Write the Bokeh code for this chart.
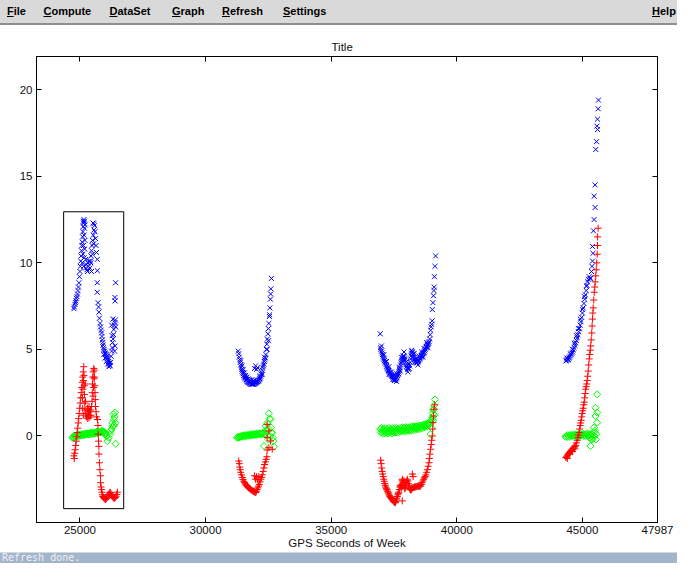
import math
from bokeh.plotting import figure
from bokeh.models import Range1d, FixedTicker, LinearAxis, ColumnDataSource, Div
from bokeh.layouts import column
from bokeh.embed import file_html
from bokeh.resources import INLINE

# ---------------- data ----------------
x_ticks = [25000, 30000, 35000, 40000, 45000, 47987]
y_ticks = [0, 5, 10, 15, 20]
x_lim = (23270, 47988)
y_lim = (-5.0, 21.92)
box_x = (24350, 26741)
box_y = (-4.2, 12.95)

title_text = "Title"
x_label = "GPS Seconds of Week"
menu_items = ["File", "Compute", "DataSet", "Graph", "Refresh", "Settings", "Help"]
status_text = "Refresh done."

blue_pass1 = [
    (24760, 7.35), (24780, 7.45), (24800, 7.6), (24820, 7.7), (24840, 7.8), (24860, 7.95), (24880, 8.05),
    (24900, 8.2), (24920, 8.4), (24940, 8.6), (24960, 8.85), (24980, 9.2), (25000, 9.5), (25015, 9.8),
    (25030, 10.1), (25045, 10.4), (25060, 10.7), (25075, 11.0), (25090, 11.2), (25105, 11.5), (25120, 11.8),
    (25130, 12.1), (25145, 12.3), (25160, 12.5),
    (25100, 10.0), (25120, 10.5), (25140, 11.0), (25160, 11.6), (25180, 12.0), (25150, 9.8), (25170, 10.3),
    (25190, 10.8), (25200, 11.3), (25130, 12.4), (25180, 12.4), (25200, 12.2),
    (25220, 9.7), (25250, 9.9), (25280, 9.6), (25310, 10.0), (25340, 9.8), (25370, 10.1), (25400, 9.7),
    (25430, 10.0), (25460, 9.5), (25230, 10.2), (25300, 9.5),
    (25520, 12.3), (25550, 12.25), (25580, 12.15), (25560, 11.9), (25530, 11.6), (25500, 11.3), (25480, 11.0),
    (25460, 10.7), (25440, 10.4), (25420, 10.1), (25600, 11.8), (25620, 11.4), (25640, 11.0), (25660, 10.6),
    (25540, 11.1), (25500, 10.5),
    (25690, 10.2), (25690, 9.55), (25690, 8.85), (25690, 8.3),
    (25720, 7.7), (25740, 7.45), (25755, 7.15), (25775, 6.8), (25800, 6.5), (25820, 6.3), (25840, 6.1),
    (25860, 5.95), (25875, 5.75), (25890, 5.55), (25905, 5.4), (25920, 5.25), (25940, 5.1), (25960, 5.0),
    (25980, 4.9), (26000, 4.8), (26020, 4.75), (26040, 4.7), (26060, 4.6), (26080, 4.55), (26100, 4.5),
    (26120, 4.4), (26140, 4.3), (26160, 4.2), (26180, 4.1), (26200, 4.05), (26220, 4.25), (25950, 4.7),
    (26000, 4.5), (26050, 4.3), (26100, 4.15), (26150, 4.0),
    (26240, 4.6), (26260, 4.9), (26280, 5.1), (26300, 5.4), (26320, 5.6), (26340, 5.85), (26350, 6.15),
    (26370, 6.4), (26390, 6.55), (26410, 6.7), (26310, 6.75), (26260, 6.4), (26280, 5.8), (26420, 6.3),
    (26400, 5.2), (26380, 4.9),
    (26420, 8.85), (26390, 8.0), (26395, 7.8),
]
red_pass1 = [
    (24760, -1.15), (24775, -1.3), (24790, -1.0), (24810, -0.8), (24830, -0.55), (24850, -0.3), (24870, -0.05),
    (24890, 0.2), (24910, 0.45), (24930, 0.75), (24950, 1.0), (24970, 1.3), (24990, 1.6), (25010, 1.9),
    (25030, 2.2), (25050, 2.5), (25070, 2.8), (25090, 3.1), (25110, 3.4), (25130, 3.7), (25150, 4.0),
    (25100, 2.2), (25110, 1.6), (25120, 2.7), (25130, 1.2), (25140, 3.2), (25160, 3.5), (25170, 2.9),
    (25180, 2.4), (25190, 1.9), (25200, 1.5), (25210, 3.0), (25220, 2.0), (25230, 1.3),
    (25260, 1.1), (25290, 1.3), (25310, 1.0), (25340, 1.2), (25360, 1.05), (25380, 1.4), (25400, 1.15),
    (25420, 1.5), (25440, 1.2), (25460, 1.7), (25300, 1.6), (25330, 1.5), (25360, 1.7),
    (25480, 2.0), (25490, 2.5), (25500, 3.0), (25510, 3.4), (25530, 3.7), (25550, 3.9), (25570, 3.8),
    (25580, 3.4), (25590, 2.9), (25600, 2.5), (25610, 2.1), (25620, 1.7), (25640, 1.4), (25660, 1.1),
    (25520, 2.3), (25540, 2.8), (25560, 3.3),
    (25700, 0.95), (25715, 0.6), (25725, 0.1), (25740, -0.3), (25750, -0.6), (25755, -1.05), (25775, -1.55),
    (25795, -1.95), (25815, -2.3), (25820, -2.7),
    (25840, -2.95), (25860, -3.1), (25875, -3.25), (25890, -3.4), (25910, -3.5), (25935, -3.55), (25960, -3.6),
    (25990, -3.65), (26020, -3.68), (26050, -3.62), (26080, -3.55), (26110, -3.45), (26140, -3.38),
    (26170, -3.3), (26200, -3.25), (26230, -3.3), (26260, -3.42), (26290, -3.5), (26320, -3.55),
    (26350, -3.6), (26380, -3.6), (26410, -3.55), (26440, -3.48), (26470, -3.38), (26490, -3.25),
]
green_pass1 = [
    (24700, -0.1), (24725, -0.05), (24750, -0.1), (24775, 0.0), (24800, -0.05), (24825, 0.0), (24850, -0.05),
    (24875, 0.05), (24900, 0.0), (24925, 0.0), (24950, 0.05), (24975, 0.0), (25000, 0.05), (25025, 0.1),
    (25050, 0.05), (25075, 0.05), (25100, 0.1), (25125, 0.05), (25150, 0.1), (25175, 0.1), (25200, 0.05),
    (25225, 0.1), (25250, 0.15), (25275, 0.1), (25300, 0.1), (25325, 0.15), (25350, 0.1), (25375, 0.15),
    (25400, 0.1), (25425, 0.15), (25450, 0.2), (25475, 0.15), (25500, 0.1), (25525, 0.15), (25550, 0.2),
    (25575, 0.15), (25600, 0.2), (25625, 0.15), (25650, 0.2), (25675, 0.25), (25700, 0.2), (25725, 0.15),
    (25750, 0.2), (25775, 0.25), (25800, 0.2), (25825, 0.25), (25850, 0.2), (25875, 0.3), (25900, 0.25),
    (25925, 0.2), (25950, 0.25), (25975, 0.2), (26000, 0.15), (26025, 0.1), (26050, 0.0),
    (26090, -0.3), (26150, -0.1), (26200, 0.1), (26230, 0.3), (26260, 0.4), (26290, 0.75), (26300, 0.55),
    (26330, 1.25), (26350, 0.95), (26355, 0.6), (26380, 1.1), (26390, 1.35), (26410, 0.75), (26420, -0.45),
]

blue_pass2 = [
    (31300, 4.9), (31320, 4.75), (31340, 4.55), (31360, 4.4), (31380, 4.25), (31400, 4.1), (31420, 3.95),
    (31440, 3.85), (31460, 3.75), (31480, 3.65), (31500, 3.6), (31520, 3.5), (31540, 3.45), (31560, 3.4),
    (31580, 3.35), (31600, 3.3), (31620, 3.25), (31640, 3.2), (31660, 3.15), (31680, 3.12), (31700, 3.1),
    (31720, 3.08), (31740, 3.05), (31760, 3.05), (31780, 3.05), (31800, 3.0), (31820, 3.0), (31840, 3.0),
    (31860, 3.0), (31880, 3.0), (31900, 3.0), (31920, 3.0), (31940, 3.02), (31960, 3.05), (31980, 3.05),
    (32000, 3.08), (32020, 3.1), (32040, 3.12), (32060, 3.15), (32080, 3.15), (32100, 3.2), (32120, 3.2),
    (32140, 3.25), (32160, 3.3), (32180, 3.35), (32200, 3.45), (32220, 3.55), (32240, 3.65), (32260, 3.8),
    (32280, 3.95), (32300, 4.05), (32320, 4.15), (32340, 4.3), (32360, 4.4), (32380, 4.5), (32400, 4.7),
    (32420, 5.0), (32440, 5.3), (32460, 5.6), (32480, 5.9), (32500, 6.2), (32520, 6.5), (32540, 6.9),
    (32560, 7.4), (32580, 7.9), (32600, 8.5), (32620, 9.1),
    (31400, 4.35), (31450, 4.05), (31500, 3.85), (31550, 3.65), (31600, 3.5), (31650, 3.4), (31700, 3.3),
    (31750, 3.25), (31800, 3.2), (31850, 3.25), (31900, 3.2), (31950, 3.9), (31990, 4.05), (32030, 3.85),
    (32070, 3.95), (32150, 3.45), (32250, 3.55), (32350, 4.55), (32450, 5.0), (32500, 5.5), (32550, 7.0),
    (32590, 8.2),
]
red_pass2 = [
    (31320, -1.45), (31340, -1.6), (31360, -1.8), (31380, -1.95), (31400, -2.1), (31430, -2.25), (31460, -2.4),
    (31490, -2.52), (31520, -2.62), (31550, -2.7), (31580, -2.77), (31610, -2.83), (31640, -2.88),
    (31670, -2.93), (31700, -2.98), (31730, -3.02), (31760, -3.05), (31790, -3.08), (31820, -3.12),
    (31850, -3.15), (31880, -3.18), (31910, -3.2), (31940, -3.22), (31970, -3.25), (31995, -3.27),
    (32020, -3.2), (32050, -3.1), (32080, -3.0), (32110, -2.9), (32140, -2.8), (32170, -2.65), (32200, -2.5),
    (32230, -2.4), (32260, -2.25), (32290, -2.05), (32320, -1.85), (32350, -1.65), (32380, -1.5),
    (32410, -1.35), (32440, -1.2),
    (31950, -2.3), (31990, -2.5), (32030, -2.35), (32080, -2.55), (32120, -2.35),
    (32450, 0.67), (32520, 0.29), (32450, -0.1), (32586, -0.29), (32520, -0.68), (32653, -0.77), (32450, -0.81),
]
green_pass2 = [
    (31260, -0.1), (31290, -0.05), (31320, -0.1), (31350, -0.05), (31380, -0.05), (31410, 0.0), (31440, -0.05),
    (31470, 0.0), (31500, 0.0), (31530, 0.05), (31560, 0.0), (31590, 0.0), (31620, 0.05), (31650, 0.0),
    (31680, 0.05), (31710, 0.05), (31740, 0.0), (31770, 0.05), (31800, 0.1), (31830, 0.05), (31860, 0.05),
    (31890, 0.1), (31920, 0.05), (31950, 0.1), (31980, 0.1), (32010, 0.05), (32040, 0.1), (32070, 0.15),
    (32100, 0.1), (32130, 0.1), (32160, 0.15), (32190, 0.1), (32220, 0.15), (32250, 0.1), (32280, 0.15),
    (32310, 0.2), (32340, 0.1), (32370, 0.15),
    (32390, 0.58), (32420, 0.3), (32450, 0.75), (32480, 0.45), (32520, 1.3), (32550, 1.0), (32586, 0.96),
    (32600, 0.5), (32620, 0.2), (32653, 0.19), (32680, -0.1), (32700, -0.3), (32323, -0.58), (32721, -0.62),
    (32560, 0.0), (32500, -0.2),
]

blue_pass3 = [
    (36950, 5.9), (37000, 5.2), (36960, 5.1), (36980, 5.0), (37000, 4.9), (37020, 4.8), (37040, 4.7),
    (37060, 4.6), (37080, 4.5), (37100, 4.42), (37120, 4.35), (37140, 4.28), (37160, 4.22), (37180, 4.12),
    (37200, 4.02), (37220, 3.95), (37240, 3.88), (37260, 3.82), (37280, 3.78), (37300, 3.74), (37320, 3.68),
    (37340, 3.63), (37360, 3.58), (37380, 3.54), (37400, 3.5), (37420, 3.47), (37440, 3.44), (37460, 3.38),
    (37480, 3.33), (37500, 3.25), (37520, 3.2), (37540, 3.22), (37560, 3.27), (37580, 3.3), (37600, 3.35),
    (37620, 3.42), (37640, 3.48), (37660, 3.55), (37680, 3.6), (37700, 3.7), (37720, 3.82), (37740, 3.95),
    (37760, 4.1), (37780, 4.22), (37800, 4.32), (37820, 4.42), (37840, 4.5), (37860, 4.58), (37880, 4.62),
    (37900, 4.6), (37920, 4.5), (37940, 4.38), (37960, 4.25), (37980, 4.12), (38000, 4.02), (38020, 3.95),
    (38040, 3.9), (38060, 3.86), (38080, 3.85), (38100, 3.9), (38120, 4.05), (38140, 4.25), (38160, 4.45),
    (38180, 4.62), (38200, 4.78), (38220, 4.88), (38240, 4.85), (38260, 4.75), (38280, 4.62), (38300, 4.52),
    (38320, 4.42), (38340, 4.35), (38360, 4.3), (38380, 4.25), (38400, 4.22), (38420, 4.23), (38440, 4.28),
    (38460, 4.32), (38480, 4.36), (38500, 4.4), (38520, 4.45), (38540, 4.5), (38560, 4.55), (38580, 4.6),
    (38600, 4.64), (38620, 4.68), (38640, 4.72), (38660, 4.76), (38680, 4.8), (38700, 4.85), (38720, 4.92),
    (38740, 5.0), (38760, 5.07), (38780, 5.13), (38800, 5.18), (38820, 5.22), (38840, 5.27), (38860, 5.32),
    (38880, 5.37), (38900, 5.45), (38920, 5.6), (38940, 5.85), (38960, 6.1), (38980, 6.3), (39000, 6.45),
    (39020, 6.65), (39025, 7.3), (39050, 7.7), (39070, 8.1), (39090, 8.4), (39100, 8.6), (39110, 9.2),
    (39130, 9.8), (39155, 10.4),
    (37100, 4.7), (37200, 4.3), (37300, 4.0), (37400, 3.7), (37500, 3.5), (37600, 3.6), (37700, 3.95),
    (37800, 4.55), (37900, 4.85), (38000, 4.3), (38100, 4.15), (38200, 4.95), (38300, 4.75), (38400, 4.45),
    (38500, 4.6), (38600, 4.85), (38700, 5.05), (38800, 5.4), (37300, 3.55), (37450, 3.25), (37600, 3.15),
    (37750, 3.75), (37900, 4.4), (38050, 3.7), (38250, 4.55), (38450, 4.1), (38650, 4.55), (38850, 5.1),
]
red_pass3 = [
    (36970, -1.4), (36990, -1.6), (37010, -1.85), (37030, -2.05), (37050, -2.2), (37070, -2.35), (37090, -2.5),
    (37110, -2.62), (37130, -2.75), (37150, -2.85), (37170, -2.95), (37190, -3.02), (37210, -3.08),
    (37230, -3.12), (37250, -3.2), (37270, -3.28), (37290, -3.35), (37310, -3.42), (37330, -3.48),
    (37350, -3.52), (37370, -3.57), (37390, -3.6), (37410, -3.63), (37430, -3.66), (37450, -3.7),
    (37470, -3.74), (37490, -3.78), (37510, -3.81), (37530, -3.84), (37550, -3.86), (37570, -3.8),
    (37590, -3.7), (37610, -3.6), (37630, -3.5), (37650, -3.4), (37670, -3.32), (37690, -3.25),
    (37710, -3.1), (37730, -2.95), (37750, -2.85), (37770, -2.9), (37790, -3.0), (37810, -2.8),
    (37830, -2.6), (37850, -2.55), (37870, -2.7), (37890, -2.85), (37910, -2.95), (37930, -3.05),
    (37950, -3.0), (37970, -2.85), (37990, -2.7), (38010, -2.6), (38030, -2.5), (38050, -2.6),
    (38070, -2.75), (38090, -2.85), (38110, -2.95), (38130, -3.05), (38150, -3.1), (38170, -3.12),
    (38190, -3.1), (38210, -3.05), (38230, -3.0), (38260, -2.98), (38290, -2.96), (38320, -2.95),
    (38350, -2.94), (38380, -2.93), (38410, -2.92), (38440, -2.91), (38470, -2.9), (38500, -2.9),
    (38530, -2.9), (38560, -2.89), (38590, -2.8), (38620, -2.7), (38650, -2.6), (38680, -2.5),
    (38710, -2.42), (38740, -2.35), (38770, -2.25), (38800, -2.1), (38830, -1.95), (38860, -1.75),
    (38890, -1.55), (38910, -1.3), (38930, -1.05), (38956, -0.77), (38980, -0.5), (39000, -0.25),
    (39024, 0.0), (39040, 0.4), (39052, 0.77), (39070, 1.15), (39092, 1.54), (39120, 1.8),
    (37830, -2.5), (37900, -2.6), (38230, -2.2), (38260, -2.35), (37830, -3.75),
]
green_pass3 = [
    (36950, 0.4), (36975, 0.2), (37000, 0.45), (37025, 0.3), (37050, 0.15), (37075, 0.4), (37100, 0.3),
    (37125, 0.15), (37150, 0.45), (37175, 0.3), (37200, 0.15), (37225, 0.4), (37250, 0.25), (37275, 0.15),
    (37300, 0.45), (37325, 0.3), (37350, 0.2), (37375, 0.4), (37400, 0.3), (37425, 0.15), (37450, 0.45),
    (37475, 0.3), (37500, 0.2), (37525, 0.45), (37550, 0.3), (37575, 0.2), (37600, 0.45), (37625, 0.3),
    (37650, 0.4), (37675, 0.2), (37700, 0.35), (37725, 0.45), (37750, 0.25), (37775, 0.4), (37800, 0.3),
    (37825, 0.5), (37850, 0.3), (37875, 0.45), (37900, 0.35), (37925, 0.25), (37950, 0.5), (37975, 0.35),
    (38000, 0.3), (38025, 0.5), (38050, 0.35), (38075, 0.45), (38100, 0.3), (38125, 0.5), (38150, 0.4),
    (38175, 0.3), (38200, 0.55), (38225, 0.4), (38250, 0.5), (38275, 0.35), (38300, 0.55), (38325, 0.45),
    (38350, 0.35), (38375, 0.55), (38400, 0.45), (38425, 0.55), (38450, 0.4), (38475, 0.6), (38500, 0.5),
    (38525, 0.4), (38550, 0.6), (38575, 0.5), (38600, 0.6), (38625, 0.45), (38650, 0.65), (38675, 0.55),
    (38700, 0.5), (38725, 0.65), (38750, 0.55), (38775, 0.7), (38800, 0.6), (38825, 0.55), (38850, 0.7),
    (38875, 0.75), (38900, 0.65), (38925, 0.8), (38950, 0.75), (38954, 0.1), (38975, 0.9), (39000, 0.95),
    (39020, 1.1), (39040, 1.3), (39060, 1.5), (39080, 1.55), (39100, 1.75), (39110, 1.2), (39129, 2.1),
    (39070, 0.9), (39000, 0.45),
]

blue_pass4 = [
    (44340, 4.33), (44370, 4.37), (44400, 4.4), (44430, 4.45), (44460, 4.5), (44490, 4.55), (44520, 4.62),
    (44550, 4.7), (44580, 4.78), (44610, 4.85), (44640, 4.97), (44670, 5.1), (44700, 5.23), (44730, 5.38),
    (44760, 5.52), (44790, 5.67), (44820, 5.85), (44850, 6.02), (44880, 6.2), (44910, 6.4), (44940, 6.6),
    (44970, 6.85), (45000, 7.1), (45030, 7.4), (45060, 7.65), (45090, 7.9), (45120, 8.15), (45150, 8.4),
    (45180, 8.7), (45210, 8.9), (45240, 9.05), (45270, 9.2), (45300, 9.1), (45330, 9.1), (45360, 9.5),
    (45380, 9.8), (45400, 10.1), (45420, 10.55), (45400, 10.95), (45440, 11.85), (45465, 12.5),
    (45505, 13.2), (45465, 13.85), (45505, 14.5), (45530, 16.55), (45560, 17.0), (45600, 17.7),
    (45575, 17.9), (45600, 18.3), (45625, 18.9), (45640, 19.4),
    (44380, 4.5), (44450, 4.4), (44520, 4.75), (44600, 5.0), (44680, 5.35), (44760, 5.8), (44840, 6.2),
    (44920, 6.75), (45000, 7.3), (45080, 8.05), (45160, 8.65),
]
red_pass4 = [
    (44340, -1.25), (44370, -1.2), (44400, -1.12), (44430, -1.05), (44460, -1.0), (44490, -0.95), (44520, -0.9),
    (44550, -0.85), (44580, -0.8), (44610, -0.75), (44640, -0.7), (44670, -0.65), (44700, -0.6), (44730, -0.55),
    (44760, -0.4), (44790, -0.25), (44820, -0.1), (44850, 0.05), (44870, 0.2), (44890, 0.4), (44910, 0.6),
    (44930, 0.75), (44950, 0.9), (44970, 1.1), (44990, 1.3), (45010, 1.45), (45030, 1.6), (45050, 1.8),
    (45070, 1.95), (45090, 2.2), (45110, 2.45), (45130, 2.7), (45150, 2.85), (45170, 3.0), (45190, 3.2),
    (45210, 3.45), (45230, 3.75), (45250, 4.1), (45270, 4.45), (45290, 4.7), (45310, 4.95), (45330, 5.2),
    (45350, 5.55), (45370, 5.95), (45385, 6.35), (45400, 6.75), (45415, 7.1), (45430, 7.4), (45450, 7.85),
    (45470, 8.3), (45490, 8.6), (45510, 8.9), (45530, 9.25), (45550, 9.6), (45570, 10.0), (45590, 10.5),
    (45600, 11.0), (45605, 11.5), (45625, 12.0),
    (44400, -1.3), (44500, -1.05), (44600, -0.9), (44700, -0.75),
]
green_pass4 = [
    (44330, -0.05), (44360, 0.0), (44390, -0.05), (44420, 0.05), (44450, 0.0), (44480, -0.05), (44510, 0.05),
    (44540, 0.0), (44570, 0.05), (44600, 0.0), (44630, 0.05), (44660, 0.0), (44690, 0.1), (44720, 0.05),
    (44750, 0.0), (44780, 0.1), (44810, -0.1), (44840, 0.05), (44870, 0.1), (44900, 0.0), (44930, 0.1),
    (44960, 0.05), (44990, 0.1), (45020, 0.0), (45050, 0.1), (45080, 0.05), (45110, 0.0), (45140, 0.1),
    (45170, 0.05), (45200, 0.15), (45230, 0.0), (45260, 0.1), (45290, -0.1), (45320, 0.05), (45350, -0.2),
    (45380, 0.1), (45410, -0.1), (45440, 0.2), (45470, 0.0),
    (45589, 2.4), (45521, 1.63), (45589, 1.35), (45521, 1.15), (45589, 0.77), (45457, 0.48), (45389, -0.2),
    (45322, -0.58), (45500, 0.3), (45560, 0.1), (45540, -0.2),
]


def unzip(*passes):
    xs = [t for ps in passes for t, _ in ps]
    ys = [v for ps in passes for _, v in ps]
    return ColumnDataSource(data=dict(x=xs, y=ys))


blue_src = unzip(blue_pass1, blue_pass2, blue_pass3, blue_pass4)
red_src = unzip(red_pass1, red_pass2, red_pass3, red_pass4)
green_src = unzip(green_pass1, green_pass2, green_pass3, green_pass4)

# ---------------- layout / style ----------------
W = 677
UI_FONT = "Liberation Sans"

# menu bar (HTML)
menu_left = [7, 43.5, 109.5, 172, 222, 283, 652]
spans = "".join(
    f'<span style="position:absolute;left:{lx}px;top:5px;"><u>{name[0]}</u>{name[1:]}</span>'
    for name, lx in zip(menu_items, menu_left)
)
menu_html = (
    f'<div style="position:relative;width:{W}px;height:25px;box-sizing:border-box;'
    f'background:#d9d9d9;border-bottom:2px solid #8e8e8e;font-family:\'{UI_FONT}\',Arial,sans-serif;'
    f'font-weight:bold;font-size:11px;line-height:13px;color:#000;">{spans}</div>'
)
menu = Div(text=menu_html, width=W, height=25, margin=0)

p = figure(width=W, height=526, x_range=Range1d(*x_lim), y_range=Range1d(*y_lim),
           output_backend="svg", toolbar_location=None,
           min_border_left=36, min_border_right=20, min_border_top=31, min_border_bottom=29,
           background_fill_color="white", border_fill_color="white",
           outline_line_color="black", outline_line_width=1)
p.grid.visible = False

bottom_axis = p.below[0]
left_axis = p.left[0]

p.title.text = title_text
p.title.align = "left"
p.title.offset = 295
p.title.standoff = 8
p.title.text_font = UI_FONT
p.title.text_font_size = "11.5px"
p.title.text_font_style = "normal"
p.title.text_color = "#111111"

top_axis = LinearAxis(ticker=FixedTicker(ticks=[], minor_ticks=x_ticks))
right_axis = LinearAxis(ticker=FixedTicker(ticks=[], minor_ticks=y_ticks))
p.add_layout(top_axis, "above")
p.add_layout(right_axis, "right")

bottom_axis.ticker = FixedTicker(ticks=x_ticks)
left_axis.ticker = FixedTicker(ticks=y_ticks)

for ax in [bottom_axis, left_axis, top_axis, right_axis]:
    ax.major_tick_in = 5
    ax.major_tick_out = 0
    ax.minor_tick_in = 5
    ax.minor_tick_out = 0
    ax.axis_line_color = "black"
    ax.major_tick_line_color = "black"
    ax.major_label_text_font = UI_FONT
    ax.major_label_text_font_size = "11.5px"
    ax.major_label_text_color = "#111111"
for ax in [bottom_axis, left_axis]:
    ax.minor_tick_line_color = None
for ax in [top_axis, right_axis]:
    ax.minor_tick_line_color = "black"
    ax.major_tick_line_color = None

bottom_axis.major_label_standoff = 3
left_axis.major_label_standoff = 4
bottom_axis.axis_label = x_label
bottom_axis.axis_label_standoff = 0
bottom_axis.axis_label_text_font = UI_FONT
bottom_axis.axis_label_text_font_size = "11.5px"
bottom_axis.axis_label_text_font_style = "normal"
bottom_axis.axis_label_text_color = "#111111"

p.scatter("x", "y", source=blue_src, marker="x", size=7, line_color="#0000ff", line_width=1)
p.scatter("x", "y", source=green_src, marker="square", angle=math.pi / 4, size=5,
          fill_color=None, line_color="#00ff00", line_width=1)
p.scatter("x", "y", source=red_src, marker="cross", size=7, line_color="#ff0000", line_width=1)

p.quad(left=[box_x[0]], right=[box_x[1]], bottom=[box_y[0]], top=[box_y[1]],
       fill_color=None, line_color="black", line_width=1)

status_html = (
    f'<div style="width:{W}px;height:11px;box-sizing:border-box;background:#a2b5cb;'
    f'border-top:1px solid #d3d8de;font-family:\'DejaVu Sans Mono\',monospace;font-size:10px;'
    f'line-height:10px;color:#eef2f6;padding-left:2px;overflow:hidden;white-space:pre;">{status_text}</div>'
)
status = Div(text=status_html, width=W, height=11, margin=0)

layout = column(menu, p, status, spacing=0)
open("out.html", "w").write(file_html(layout, INLINE))
